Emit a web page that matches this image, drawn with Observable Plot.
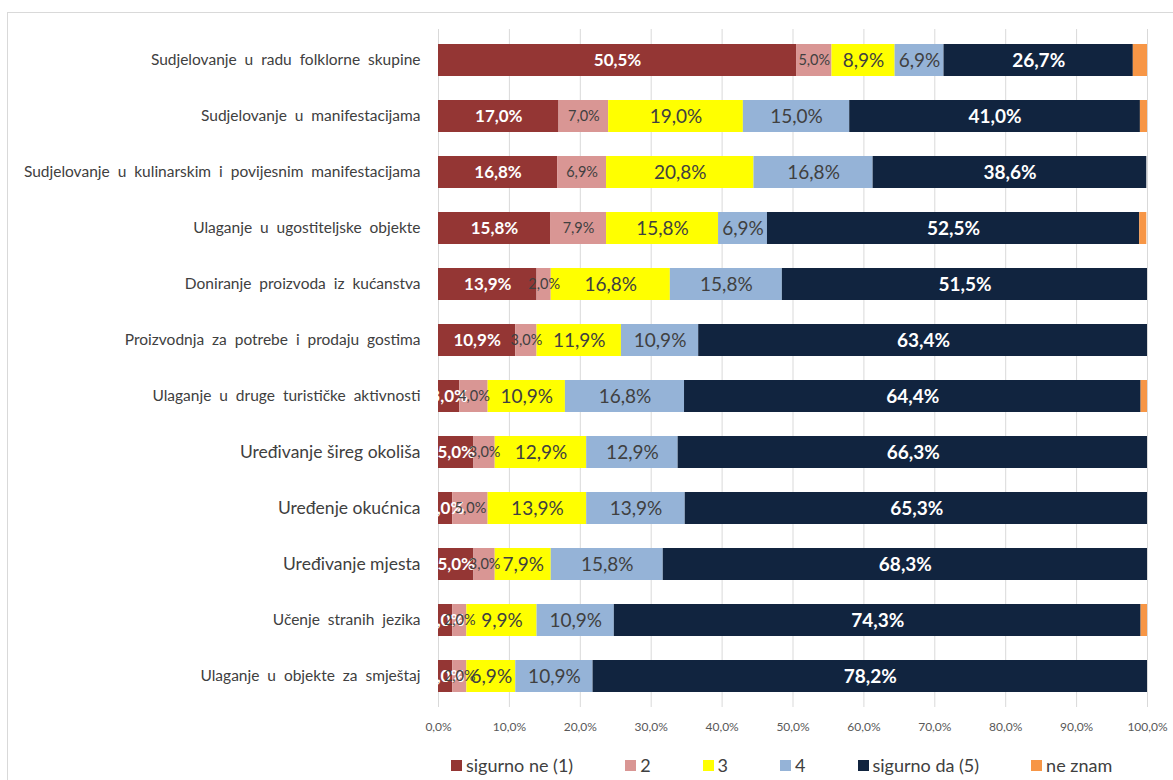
<!DOCTYPE html>
<html><head><meta charset="utf-8">
<script src="https://cdn.jsdelivr.net/npm/d3@7"></script>
<script src="https://cdn.jsdelivr.net/npm/@observablehq/plot@0.6"></script>
<style>
body{margin:0;background:#fff;font-family:Lato,"Noto Sans",sans-serif;}
#wrap{position:relative;width:1173px;height:780px;overflow:hidden;}
#frame{position:absolute;left:7px;top:12px;width:1200px;height:800px;border:1px solid #d9d9d9;}
#chart{position:absolute;left:0;top:0;}
#legend{position:absolute;top:753px;left:451px;display:flex;font-size:18px;color:#404040;line-height:24px;}
#legend .it{display:flex;align-items:center;margin-right:52px;}
#legend .sw{width:11px;height:11px;margin-right:4px;}
</style></head>
<body><div id="wrap"><div id="frame"></div><div id="chart"></div><div id="legend"></div></div>
<script>
const categories = [
  "Sudjelovanje  u  radu  folklorne  skupine",
  "Sudjelovanje  u  manifestacijama",
  "Sudjelovanje  u  kulinarskim  i  povijesnim  manifestacijama",
  "Ulaganje  u  ugostiteljske  objekte",
  "Doniranje  proizvoda  iz  kućanstva",
  "Proizvodnja  za  potrebe  i  prodaju  gostima",
  "Ulaganje  u  druge  turističke  aktivnosti",
  "Uređivanje šireg okoliša",
  "Uređenje okućnica",
  "Uređivanje mjesta",
  "Učenje  stranih  jezika",
  "Ulaganje  u  objekte  za  smještaj"
];
const largeLabels = ["Uređivanje šireg okoliša","Uređenje okućnica","Uređivanje mjesta"];
const seriesNames = ["sigurno ne (1)","2","3","4","sigurno da (5)","ne znam"];
const seriesColors = ["#943634","#D99694","#FFFF00","#95B3D7","#11243F","#F79646"];
const sigurnoNe = [50.5,17.0,16.8,15.8,13.9,10.9,3.0,5.0,2.0,5.0,2.0,2.0];
const ocjena2   = [5.0,7.0,6.9,7.9,2.0,3.0,4.0,3.0,5.0,3.0,2.0,2.0];
const ocjena3   = [8.9,19.0,20.8,15.8,16.8,11.9,10.9,12.9,13.9,7.9,9.9,6.9];
const ocjena4   = [6.9,15.0,16.8,6.9,15.8,10.9,16.8,12.9,13.9,15.8,10.9,10.9];
const sigurnoDa = [26.7,41.0,38.6,52.5,51.5,63.4,64.4,66.3,65.3,68.3,74.3,78.2];
const neZnam    = [2.0,1.0,0.0,1.0,0.0,0.0,1.0,0.0,0.0,0.0,1.0,0.0];
const xTicks = [0,10,20,30,40,50,60,70,80,90,100];

const seriesValues = [sigurnoNe, ocjena2, ocjena3, ocjena4, sigurnoDa, neZnam];
const table = [];
categories.forEach((c, i) => seriesNames.forEach((s, j) => table.push({category: c, series: s, value: seriesValues[j][i]})));

const fmt = v => v.toFixed(1).replace(".", ",") + "%";
const boldSeries = ["sigurno ne (1)", "sigurno da (5)"];
const greySeries = ["2", "3", "4"];
const stackOpts = {x: "value", y: "category", z: "series", order: seriesNames};

const chart = Plot.plot({
  width: 1173,
  height: 745,
  marginLeft: 438,
  marginRight: 26,
  marginTop: 29,
  marginBottom: 38,
  style: {fontFamily: "Lato, 'Noto Sans', sans-serif", background: "transparent"},
  x: {domain: [0, 100]},
  y: {domain: categories, paddingInner: 0.42, paddingOuter: 0.2, axis: null},
  color: {domain: seriesNames, range: seriesColors},
  marks: [
    Plot.gridX(xTicks, {stroke: "#d9d9d9", strokeOpacity: 1}),
    Plot.axisX(xTicks, {tickSize: 0, tickPadding: 15, fontSize: 12, color: "#595959", tickFormat: fmt, label: null}),
    Plot.barX(table, Plot.stackX({...stackOpts, fill: "series", clip: true})),
    Plot.text(table, Plot.stackX({...stackOpts,
      text: d => boldSeries.includes(d.series) ? fmt(d.value) : "",
      fill: "white", fontWeight: "bold",
      fontSize: d => d.series === "sigurno ne (1)" ? 17 : 19,
      clip: true})),
    Plot.text(table, Plot.stackX({...stackOpts,
      text: d => greySeries.includes(d.series) ? fmt(d.value) : "",
      fill: "#404040",
      fontSize: d => d.series === "2" ? 14.5 : 19,
      clip: true})),
    Plot.text(categories, {y: d => d, text: d => d, frameAnchor: "left", textAnchor: "end", dx: -18,
      fill: "#404040", fontSize: d => largeLabels.includes(d) ? 17.5 : 15.5})
  ]
});
document.getElementById("chart").appendChild(chart);

const legend = document.getElementById("legend");
seriesNames.forEach((s, j) => {
  const it = document.createElement("div"); it.className = "it";
  const sw = document.createElement("div"); sw.className = "sw"; sw.style.background = seriesColors[j];
  const tx = document.createElement("span"); tx.textContent = s;
  it.appendChild(sw); it.appendChild(tx); legend.appendChild(it);
});
</script></body></html>
